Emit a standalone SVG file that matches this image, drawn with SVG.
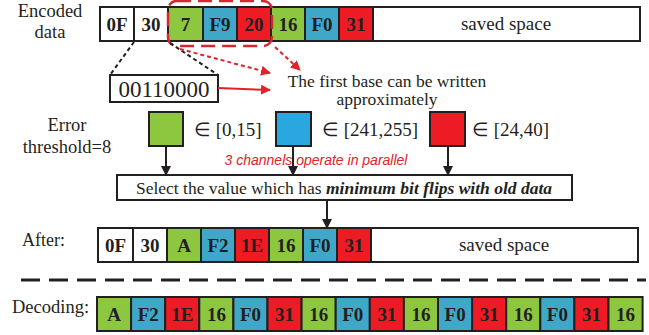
<svg xmlns="http://www.w3.org/2000/svg" width="649" height="335" viewBox="0 0 649 335">
<defs>
<style>
.c{stroke:#231F20;stroke-width:2}
.g{fill:#8DC63F}.b{fill:#3FA8C8}.r{fill:#ED1C24}.w{fill:#fff}
.t{font-family:"Liberation Serif","Times New Roman",serif;font-weight:bold;font-size:19px;text-anchor:middle;fill:#231F20}
.n{font-family:"Liberation Serif","Times New Roman",serif;font-size:18.5px;fill:#231F20}
.m{text-anchor:middle}
.k{stroke:#231F20;stroke-width:2;fill:none}
.rd{stroke:#E0222A;stroke-width:2;fill:none}
</style>
<marker id="ak" viewBox="0 0 10 10" refX="9" refY="5" markerWidth="5" markerHeight="5" orient="auto"><path d="M0,0L10,5L0,10z" fill="#231F20"/></marker>
<marker id="ar" viewBox="0 0 10 10" refX="9" refY="5" markerWidth="5" markerHeight="5" orient="auto"><path d="M0,0L10,5L0,10z" fill="#E0222A"/></marker>
</defs>

<text class="n m" x="50" y="17">Encoded</text>
<text class="n m" x="50" y="38">data</text>

<g id="encoded">
<rect class="c w" x="100" y="7" width="34" height="34"/><text class="t" x="117" y="31">0F</text>
<rect class="c w" x="134" y="7" width="34" height="34"/><text class="t" x="151" y="31">30</text>
<rect class="c g" x="168" y="7" width="35" height="34"/><text class="t" x="185.5" y="31">7</text>
<rect class="c b" x="203" y="7" width="34" height="34"/><text class="t" x="220" y="31">F9</text>
<rect class="c r" x="237" y="7" width="34" height="34"/><text class="t" x="254" y="31">20</text>
<rect class="c g" x="271" y="7" width="34" height="34"/><text class="t" x="288" y="31">16</text>
<rect class="c b" x="305" y="7" width="34" height="34"/><text class="t" x="322" y="31">F0</text>
<rect class="c r" x="339" y="7" width="34" height="34"/><text class="t" x="356" y="31">31</text>
<rect class="c w" x="373" y="7" width="267" height="34"/><text class="n m" x="506" y="30" style="font-size:19px">saved space</text>
</g>

<g id="highlight">
<rect x="168" y="1" width="104" height="45" rx="9" fill="none" stroke="#D7262F" stroke-width="2.5" stroke-dasharray="14 7"/>
</g>

<g id="binary">
<rect class="k" x="110" y="75" width="108" height="27" fill="#fff"/>
<text class="n m" x="164" y="97" style="font-size:23px">00110000</text>
</g>

<g id="note">
<text class="n m" x="387" y="87" style="font-size:17.5px">The first base can be written</text>
<text class="n m" x="387" y="105" style="font-size:17.5px">approximately</text>
</g>

<text class="n m" x="67" y="131">Error</text>
<text class="n m" x="67" y="153">threshold=8</text>

<g id="green-ch">
<rect class="c g" x="149" y="112" width="34" height="34"/>
<text class="n" x="194" y="136" style="font-size:19px">∈ [0,15]</text>
</g>
<g id="blue-ch">
<rect class="c" x="276" y="112" width="35" height="34" fill="#2AA7DF"/>
<text class="n" x="322" y="136" style="font-size:19px">∈ [241,255]</text>
</g>
<g id="red-ch">
<rect class="c r" x="430" y="112" width="35" height="34"/>
<text class="n" x="472" y="136" style="font-size:19px">∈ [24,40]</text>
</g>

<g id="select">
<rect class="k" x="117" y="175" width="455" height="25" fill="#fff"/>
<text class="n m" x="344" y="194" style="font-size:17.5px">Select the value which has <tspan font-weight="bold" font-style="italic">minimum bit flips with old data</tspan></text>
</g>

<text class="n" x="22" y="246" style="font-size:18px">After:</text>
<g id="after">
<rect class="c w" x="98" y="228" width="35" height="34"/><text class="t" x="115.5" y="252">0F</text>
<rect class="c w" x="133" y="228" width="34" height="34"/><text class="t" x="150" y="252">30</text>
<rect class="c g" x="167" y="228" width="34" height="34"/><text class="t" x="184" y="252">A</text>
<rect class="c b" x="201" y="228" width="34" height="34"/><text class="t" x="218" y="252">F2</text>
<rect class="c r" x="235" y="228" width="34" height="34"/><text class="t" x="252" y="252">1E</text>
<rect class="c g" x="269" y="228" width="34" height="34"/><text class="t" x="286" y="252">16</text>
<rect class="c b" x="303" y="228" width="34" height="34"/><text class="t" x="320" y="252">F0</text>
<rect class="c r" x="337" y="228" width="34" height="34"/><text class="t" x="354" y="252">31</text>
<rect class="c w" x="371" y="228" width="267" height="34"/><text class="n m" x="504" y="251" style="font-size:19px">saved space</text>
</g>

<text class="n" x="12" y="313">Decoding:</text>
<g id="decoding">
<rect class="c g" x="97" y="297" width="34.1" height="34"/><text class="t" x="114" y="321">A</text>
<rect class="c b" x="131.1" y="297" width="34.1" height="34"/><text class="t" x="148.2" y="321">F2</text>
<rect class="c r" x="165.2" y="297" width="34.1" height="34"/><text class="t" x="182.3" y="321">1E</text>
<rect class="c g" x="199.3" y="297" width="34.1" height="34"/><text class="t" x="216.4" y="321">16</text>
<rect class="c b" x="233.4" y="297" width="34.1" height="34"/><text class="t" x="250.5" y="321">F0</text>
<rect class="c r" x="267.5" y="297" width="34.1" height="34"/><text class="t" x="284.6" y="321">31</text>
<rect class="c g" x="301.6" y="297" width="34.1" height="34"/><text class="t" x="318.7" y="321">16</text>
<rect class="c b" x="335.7" y="297" width="34.1" height="34"/><text class="t" x="352.8" y="321">F0</text>
<rect class="c r" x="369.8" y="297" width="34.1" height="34"/><text class="t" x="386.9" y="321">31</text>
<rect class="c g" x="403.9" y="297" width="34.1" height="34"/><text class="t" x="421" y="321">16</text>
<rect class="c b" x="438" y="297" width="34.1" height="34"/><text class="t" x="455.1" y="321">F0</text>
<rect class="c r" x="472.1" y="297" width="34.1" height="34"/><text class="t" x="489.2" y="321">31</text>
<rect class="c g" x="506.2" y="297" width="34.1" height="34"/><text class="t" x="523.3" y="321">16</text>
<rect class="c b" x="540.3" y="297" width="34.1" height="34"/><text class="t" x="557.4" y="321">F0</text>
<rect class="c r" x="574.4" y="297" width="34.1" height="34"/><text class="t" x="591.5" y="321">31</text>
<rect class="c g" x="608.5" y="297" width="34.1" height="34"/><text class="t" x="625.6" y="321">16</text>
</g>

<text x="316" y="165" text-anchor="middle" font-family="'Liberation Sans', Arial, sans-serif" font-style="italic" font-size="14" fill="#E0222A">3 channels operate in parallel</text>

<line x1="21" y1="280" x2="646" y2="280" stroke="#231F20" stroke-width="3" stroke-dasharray="19 9"/>

<g id="connectors">
<line x1="134" y1="42" x2="110" y2="75" stroke="#231F20" stroke-width="2" stroke-dasharray="4 3"/>
<line x1="170" y1="43" x2="218" y2="75" stroke="#231F20" stroke-width="2" stroke-dasharray="4 3"/>
<line class="rd" x1="218" y1="88" x2="270" y2="90" marker-end="url(#ar)"/>
<line class="rd" x1="180" y1="49" x2="270" y2="73" stroke-dasharray="4 3" marker-end="url(#ar)"/>
<line class="rd" x1="275" y1="47" x2="300" y2="70" stroke-dasharray="4 3" marker-end="url(#ar)"/>
<line class="k" x1="166" y1="146" x2="166" y2="175" marker-end="url(#ak)"/>
<line class="k" x1="293" y1="146" x2="293" y2="175" marker-end="url(#ak)"/>
<line class="k" x1="448" y1="146" x2="448" y2="175" marker-end="url(#ak)"/>
<line class="k" x1="327" y1="200" x2="327" y2="228" marker-end="url(#ak)"/>
</g>
</svg>
